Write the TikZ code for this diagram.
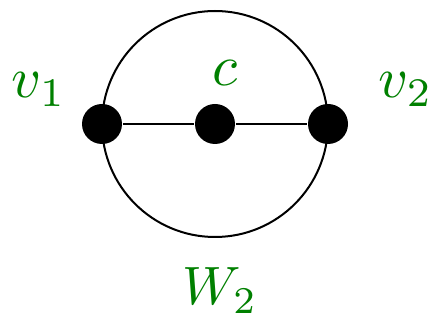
\documentclass[tikz,border=0pt]{standalone}
\usepackage{graphicx}
\definecolor{lblgreen}{RGB}{0,128,0}
\tikzset{
  vert/.style={circle,fill=black,inner sep=0pt,minimum size=40pt},
  lbl/.style={text=lblgreen,inner sep=0pt}
}
\newcommand{\bigtxt}[2]{\scalebox{#1}{#2}}
\begin{document}
\begin{tikzpicture}[x=1pt,y=-1pt,line width=2pt]
\useasboundingbox (0,0) rectangle (437,320);
\node (circ) [circle,draw,minimum size=226pt,inner sep=0pt] at (215,124) {};
\node[vert] (v1) at (102,124) {};
\node[vert] (c) at (215,124) {};
\node[vert] (v2) at (328,124) {};
\draw (v1) -- (c) -- (v2);
\node[lbl,anchor=base west] (l1) at (11,98) {\bigtxt{5.8}{$v_1$}};
\node[lbl,anchor=base] (lc) at (225,86) {\bigtxt{5.8}{$c$}};
\node[lbl,anchor=base east] (l2) at (434,98) {\bigtxt{5.8}{$v_2$}};
\node[lbl,anchor=base] (lw) at (220,305) {\bigtxt{5.4}{$W_2$}};
\end{tikzpicture}
\end{document}
